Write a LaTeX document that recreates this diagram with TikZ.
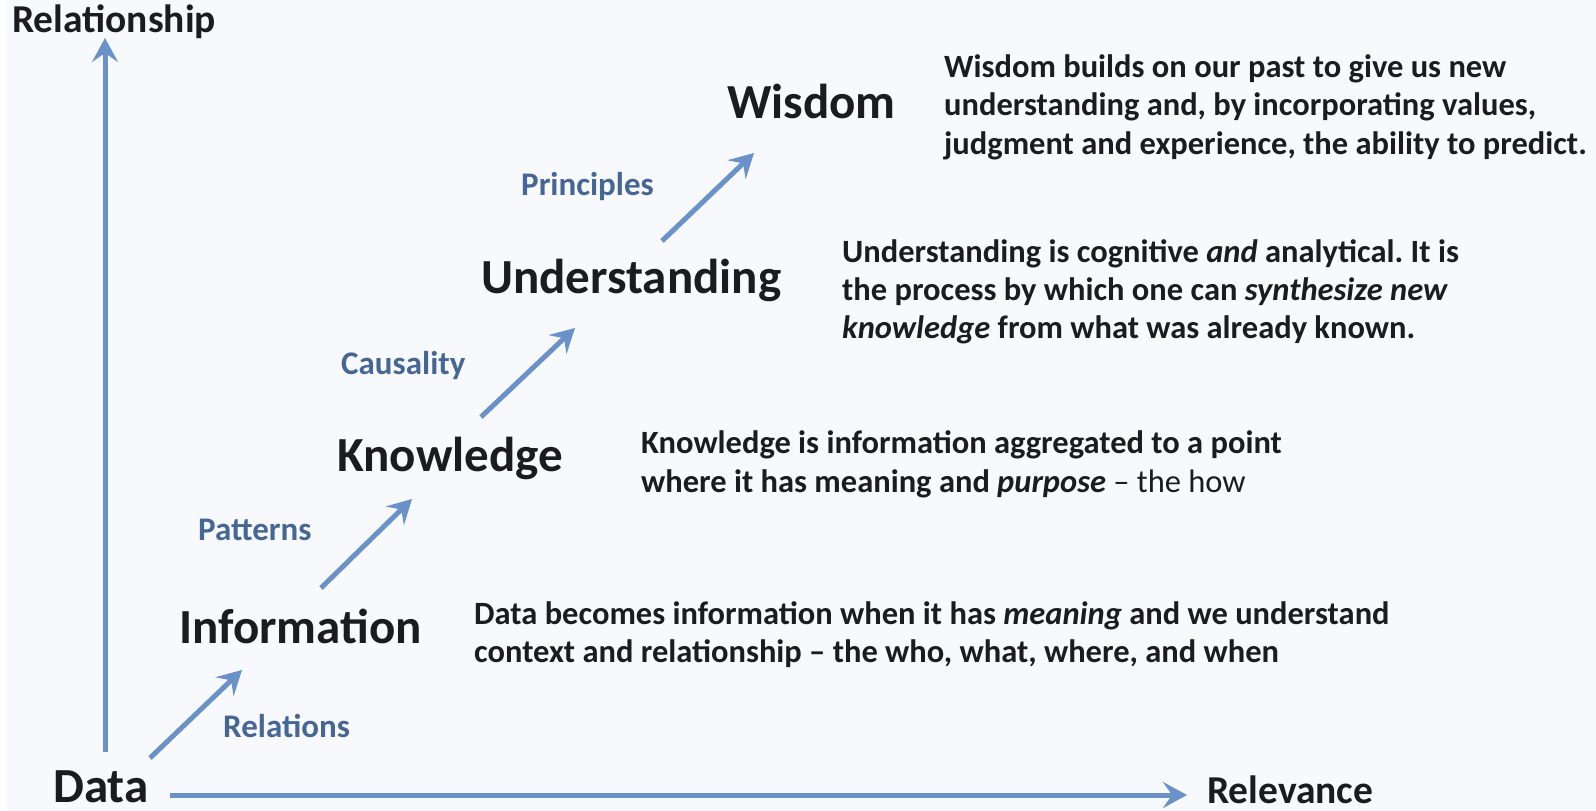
\documentclass[tikz,border=0pt]{standalone}
\usepackage{fontspec}
\setmainfont{Carlito}
\usetikzlibrary{arrows.meta}
\definecolor{bg}{RGB}{247,249,253}
\definecolor{arr}{RGB}{106,146,200}
\definecolor{lbl}{RGB}{70,103,150}
\definecolor{ink}{RGB}{28,28,32}
\frenchspacing
\begin{document}
\begin{tikzpicture}[x=1pt,y=-1pt,
  conn/.style={draw=arr, line width=5pt, -{Stealth[length=24pt,width=26pt,inset=9pt]}},
  big/.style={anchor=base west, inner sep=0pt, text=ink, font=\fontsize{49}{58}\selectfont\bfseries},
  axislbl/.style={anchor=base west, inner sep=0pt, text=ink, font=\fontsize{39.5}{46}\selectfont\bfseries},
  lab/.style={anchor=base west, inner sep=0pt, text=lbl, font=\fontsize{33}{40}\selectfont\bfseries},
  desc/.style={anchor=base west, inner sep=0pt, text=ink, font=\fontsize{32.5}{38}\selectfont\bfseries},
]
\useasboundingbox (0,0) rectangle (1596,811);
\fill[white] (0,0) rectangle (1596,811);
\fill[bg] (7,0) rectangle (1596,811);

% axes
\coordinate (vstart) at (105,752);
\coordinate (vend) at (105,38);
\coordinate (hstart) at (170,795);
\coordinate (hend) at (1187,795);
\draw[conn] (vstart) -- (vend);
\draw[conn] (hstart) -- (hend);
\node[axislbl] (rel) at (12,32) {Relationship};
\node[axislbl] (relev) at (1207,803) {Relevance};

% levels
\node[big] (data) at (53,802) {Data};
\node[big] (info) at (179,643) {Information};
\node[big] (know) at (337,471) {Knowledge};
\node[big] (und) at (481,293) {Understanding};
\node[big] (wis) at (727,118) {Wisdom};

% diagonal arrows
\coordinate (a1s) at (150,758); \coordinate (a1e) at (242,670);
\coordinate (a2s) at (321,588); \coordinate (a2e) at (412,499);
\coordinate (a3s) at (481,417); \coordinate (a3e) at (575,328);
\coordinate (a4s) at (662,241); \coordinate (a4e) at (754,153);
\draw[conn] (a1s) -- (a1e);
\draw[conn] (a2s) -- (a2e);
\draw[conn] (a3s) -- (a3e);
\draw[conn] (a4s) -- (a4e);

% labels
\node[lab] (l1) at (223,737) {Relations};
\node[lab] (l2) at (198,540) {Patterns};
\node[lab] (l3) at (341,374) {Causality};
\node[lab] (l4) at (521,195) {Principles};

% descriptions
\node[desc] (w1) at (944,77) {Wisdom builds on our past to give us new};
\node[desc] (w2) at (944,115) {understanding and, by incorporating values,};
\node[desc] (w3) at (944,154) {judgment and experience, the ability to predict.};

\node[desc] (u1) at (842,262) {Understanding is cognitive \textit{and} analytical. It is};
\node[desc] (u2) at (842,300) {the process by which one can \textit{synthesize new}};
\node[desc] (u3) at (842,338) {\textit{knowledge} from what was already known.};

\node[desc] (k1) at (641,453) {Knowledge is information aggregated to a point};
\node[desc] (k2) at (641,492) {where it has meaning and \textit{purpose} \textmd{\textendash{} the how}};

\node[desc] (d1) at (474,624) {Data becomes information when it has \textit{meaning} and we understand};
\node[desc] (d2) at (474,662) {context and relationship \textendash{} the who, what, where, and when};
\end{tikzpicture}
\end{document}
